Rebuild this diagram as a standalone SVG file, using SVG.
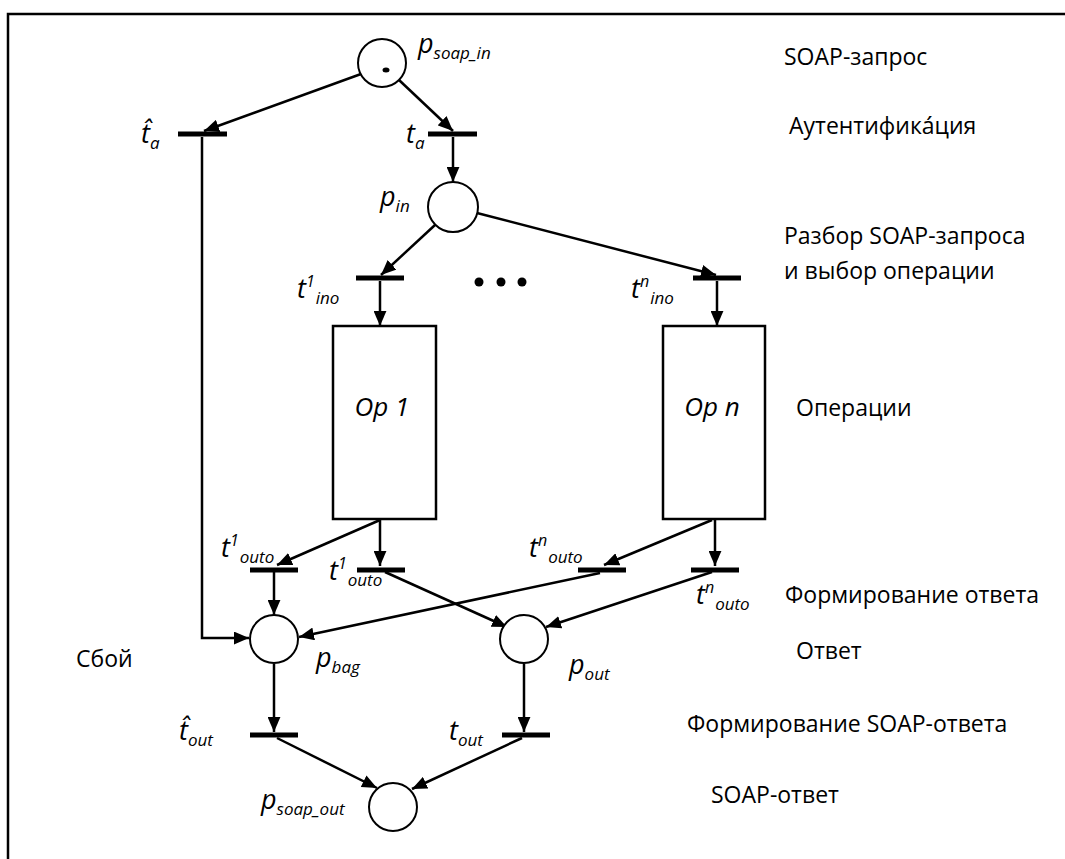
<svg xmlns="http://www.w3.org/2000/svg" width="1065" height="859" viewBox="0 0 1065 859">
<defs>
<marker id="ah" viewBox="0 0 14 12" refX="14" refY="6" markerWidth="15" markerHeight="13" markerUnits="userSpaceOnUse" orient="auto">
<path d="M0,0 L14,6 L0,12 z" fill="#000"/>
</marker>
<style>
.place{fill:#fff;stroke:#000;stroke-width:2}
.bar{fill:#000}
.box{fill:#fff;stroke:#000;stroke-width:2.5}
.arc{fill:none;stroke:#000;stroke-width:2.5;marker-end:url(#ah)}
.lbl{font-family:"Open Sans","Noto Sans","Liberation Sans",sans-serif;font-style:italic;font-size:27px;fill:#000}
.sub{font-size:17px}
.sup{font-size:16px}
.op{font-family:"Open Sans","Noto Sans","Liberation Sans",sans-serif;font-style:italic;font-size:26px;fill:#000;text-anchor:middle}
.desc{font-family:"Open Sans","Noto Sans","Liberation Sans",sans-serif;font-size:23px;fill:#000}
</style>
</defs>
<rect width="1065" height="859" fill="#fff"/>
<path d="M8,859 L8,14 L1065,14" fill="none" stroke="#000" stroke-width="2.5"/>

<g id="connectors">
<line class="arc" x1="361" y1="74" x2="204" y2="131"/>
<line class="arc" x1="399" y1="80" x2="453" y2="131"/>
<line class="arc" x1="453" y1="137" x2="453" y2="182"/>
<line class="arc" x1="435" y1="225" x2="381" y2="275"/>
<line class="arc" x1="477" y1="213" x2="716" y2="275"/>
<line class="arc" x1="380" y1="281" x2="380" y2="326"/>
<line class="arc" x1="717" y1="281" x2="717" y2="326"/>
<line class="arc" x1="380" y1="520" x2="277" y2="565"/>
<line class="arc" x1="380" y1="520" x2="380" y2="566"/>
<line class="arc" x1="712" y1="520" x2="604" y2="565"/>
<line class="arc" x1="715" y1="520" x2="715" y2="566"/>
<line class="arc" x1="274" y1="572" x2="274" y2="615"/>
<line class="arc" x1="385" y1="572" x2="507" y2="627"/>
<line class="arc" x1="600" y1="573" x2="299" y2="637"/>
<line class="arc" x1="712" y1="572" x2="546" y2="627"/>
<polyline class="arc" points="202,137 202,638 249,638"/>
<line class="arc" x1="274" y1="664" x2="274" y2="732"/>
<line class="arc" x1="524" y1="664" x2="524" y2="732"/>
<line class="arc" x1="277" y1="738" x2="377" y2="788"/>
<line class="arc" x1="522" y1="738" x2="412" y2="789"/>
</g>

<g id="p_soap_in">
<circle class="place" cx="382" cy="63" r="24"/>
<ellipse cx="386" cy="70" rx="3.5" ry="2.5" fill="#000"/>
<text class="lbl" x="418" y="53">p<tspan class="sub" dy="6">soap_in</tspan></text>
</g>
<g id="t_a_hat">
<rect class="bar" x="178" y="131.5" width="49" height="5"/>
<text class="lbl" x="141" y="143">t̂<tspan class="sub" dy="6">a</tspan></text>
</g>
<g id="t_a">
<rect class="bar" x="428" y="131.5" width="49" height="5"/>
<text class="lbl" x="406" y="143">t<tspan class="sub" dy="6">a</tspan></text>
</g>
<g id="p_in">
<circle class="place" cx="453" cy="207" r="25"/>
<text class="lbl" x="380" y="206">p<tspan class="sub" dy="6">in</tspan></text>
</g>
<g id="t1_ino">
<rect class="bar" x="356" y="275.5" width="48" height="5"/>
<text class="lbl" x="297" y="298">t<tspan class="sup" dy="-11">1</tspan><tspan class="sub" dx="1" dy="17">ino</tspan></text>
</g>
<g id="dots">
<circle cx="479" cy="282" r="4.5" fill="#000"/>
<circle cx="501" cy="282" r="4.5" fill="#000"/>
<circle cx="522" cy="282" r="4.5" fill="#000"/>
</g>
<g id="tn_ino">
<rect class="bar" x="693" y="275.5" width="48" height="5"/>
<text class="lbl" x="631" y="298">t<tspan class="sup" dy="-11">n</tspan><tspan class="sub" dx="1" dy="17">ino</tspan></text>
</g>
<g id="op1">
<rect class="box" x="333" y="326" width="103" height="193"/>
<text class="op" x="382" y="416">Op 1</text>
</g>
<g id="opn">
<rect class="box" x="663" y="326" width="102" height="193"/>
<text class="op" x="712" y="416">Op n</text>
</g>
<g id="t1_outo_hat">
<rect class="bar" x="250" y="567.5" width="48" height="5"/>
<text class="lbl" x="221" y="557">t<tspan class="sup" dy="-11">1</tspan><tspan class="sub" dx="1" dy="17">outo</tspan></text>
</g>
<g id="t1_outo">
<rect class="bar" x="357" y="567.5" width="48" height="5"/>
<text class="lbl" x="329" y="580">t<tspan class="sup" dy="-11">1</tspan><tspan class="sub" dx="1" dy="17">outo</tspan></text>
</g>
<g id="tn_outo_hat">
<rect class="bar" x="578" y="567.5" width="48" height="5"/>
<text class="lbl" x="529" y="557">t<tspan class="sup" dy="-11">n</tspan><tspan class="sub" dx="1" dy="17">outo</tspan></text>
</g>
<g id="tn_outo">
<rect class="bar" x="691" y="567.5" width="48" height="5"/>
<text class="lbl" x="696" y="604">t<tspan class="sup" dy="-11">n</tspan><tspan class="sub" dx="1" dy="17">outo</tspan></text>
</g>
<g id="p_bag">
<circle class="place" cx="274" cy="639" r="24"/>
<text class="lbl" x="316" y="667">p<tspan class="sub" dy="6">bag</tspan></text>
</g>
<g id="p_out">
<circle class="place" cx="524" cy="639" r="24"/>
<text class="lbl" x="569" y="674">p<tspan class="sub" dy="6">out</tspan></text>
</g>
<g id="t_out_hat">
<rect class="bar" x="250" y="732.5" width="48" height="5"/>
<text class="lbl" x="179" y="740">t̂<tspan class="sub" dy="6">out</tspan></text>
</g>
<g id="t_out">
<rect class="bar" x="502" y="732.5" width="48" height="5"/>
<text class="lbl" x="449" y="740">t<tspan class="sub" dy="6">out</tspan></text>
</g>
<g id="p_soap_out">
<circle class="place" cx="393" cy="807" r="24"/>
<text class="lbl" x="261" y="809">p<tspan class="sub" dy="6">soap_out</tspan></text>
</g>

<g id="descriptions">
<text class="desc" x="784" y="65">SOAP-запрос</text>
<text class="desc" x="789" y="134">Аутентифика́ция</text>
<text class="desc" x="784" y="244">Разбор SOAP-запроса</text>
<text class="desc" x="784" y="279">и выбор операции</text>
<text class="desc" x="796" y="416">Операции</text>
<text class="desc" x="785" y="603">Формирование ответа</text>
<text class="desc" x="796" y="659">Ответ</text>
<text class="desc" x="76" y="667">Сбой</text>
<text class="desc" x="687" y="732">Формирование SOAP-ответа</text>
<text class="desc" x="711" y="803">SOAP-ответ</text>
</g>
</svg>
